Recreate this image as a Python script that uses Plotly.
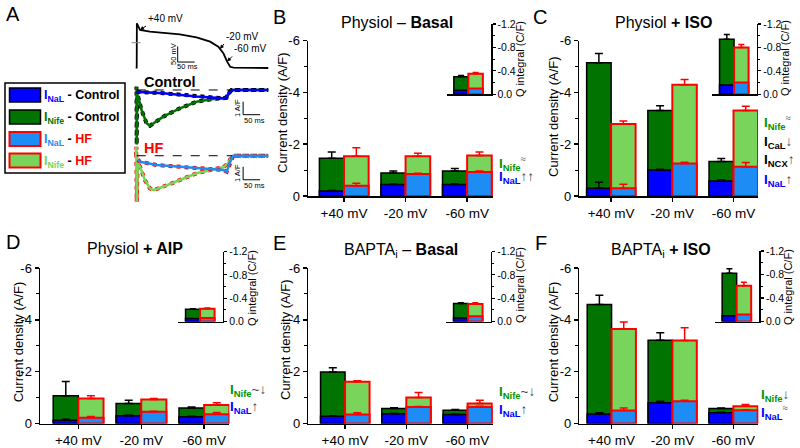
import plotly.graph_objects as go

W, H = 800, 448
FONT = "Liberation Sans, Arial, Helvetica, sans-serif"

BLUE = "#0000FF"
DGREEN = "#007300"
LBLUE = "#1E8CF5"
LGREEN = "#78D45A"
RED = "#FF0000"
TXT_GREEN = "#009400"

categories = ["+40 mV", "-20 mV", "-60 mV"]
q_category = ["Q"]

# ---------------- Panel B : Physiol - Basal (A/F) ----------------
B_ctrl_nife = [-1.46, -0.89, -0.97]
B_ctrl_nife_err = [0.24, 0.08, 0.09]
B_ctrl_nal = [-0.19, -0.44, -0.44]
B_ctrl_nal_err = [0.02, 0.02, 0.03]
B_hf_nife = [-1.54, -1.54, -1.56]
B_hf_nife_err = [0.32, 0.11, 0.14]
B_hf_nal = [-0.40, -0.85, -0.93]
B_hf_nal_err = [0.09, 0.03, 0.04]
# Q integral (C/F): [Control, HF]
B_q_nife = [-0.30, -0.35]
B_q_nife_err = [0.02, 0.02]
B_q_nal = [-0.07, -0.10]

# ---------------- Panel C : Physiol + ISO ----------------
C_ctrl_nife = [-5.15, -3.30, -1.33]
C_ctrl_nife_err = [0.36, 0.19, 0.12]
C_ctrl_nal = [-0.30, -1.00, -0.58]
C_ctrl_nal_err = [0.23, 0.03, 0.04]
C_hf_nife = [-2.78, -4.30, -3.30]
C_hf_nife_err = [0.12, 0.20, 0.17]
C_hf_nal = [-0.30, -1.26, -1.13]
C_hf_nal_err = [0.15, 0.04, 0.16]
C_q_nife = [-0.94, -0.80]
C_q_nife_err = [0.08, 0.05]
C_q_nal = [-0.16, -0.20]

# ---------------- Panel D : Physiol + AIP ----------------
D_ctrl_nife = [-1.07, -0.77, -0.60]
D_ctrl_nife_err = [0.55, 0.13, 0.04]
D_ctrl_nal = [-0.13, -0.30, -0.26]
D_ctrl_nal_err = [0.03, 0.02, 0.02]
D_hf_nife = [-0.96, -0.93, -0.71]
D_hf_nife_err = [0.11, 0.03, 0.09]
D_hf_nal = [-0.22, -0.45, -0.36]
D_hf_nal_err = [0.05, 0.02, 0.06]
D_q_nife = [-0.21, -0.22]
D_q_nife_err = [0.01, 0.01]
D_q_nal = [-0.05, -0.06]

# ---------------- Panel E : BAPTAi - Basal ----------------
E_ctrl_nife = [-1.99, -0.58, -0.51]
E_ctrl_nife_err = [0.16, 0.03, 0.03]
E_ctrl_nal = [-0.28, -0.38, -0.35]
E_ctrl_nal_err = [0.02, 0.02, 0.02]
E_hf_nife = [-1.61, -1.00, -0.77]
E_hf_nife_err = [0.04, 0.20, 0.13]
E_hf_nal = [-0.35, -0.64, -0.64]
E_hf_nal_err = [0.06, 0.02, 0.03]
E_q_nife = [-0.31, -0.30]
E_q_nife_err = [0.01, 0.02]
E_q_nal = [-0.06, -0.09]

# ---------------- Panel F : BAPTAi + ISO ----------------
F_ctrl_nife = [-4.59, -3.21, -0.58]
F_ctrl_nife_err = [0.36, 0.29, 0.02]
F_ctrl_nal = [-0.37, -0.80, -0.41]
F_ctrl_nal_err = [0.04, 0.06, 0.02]
F_hf_nife = [-3.65, -3.20, -0.67]
F_hf_nife_err = [0.27, 0.49, 0.06]
F_hf_nal = [-0.50, -0.86, -0.51]
F_hf_nal_err = [0.10, 0.04, 0.02]
F_q_nife = [-0.82, -0.61]
F_q_nife_err = [0.08, 0.06]
F_q_nal = [-0.10, -0.12]

# ---------------- Panel A traces ----------------
# action potential (ms, mV)
ap_t = [-3, 0, 0.5, 9.7, 39, 78, 127, 176, 216, 240, 255, 266, 275, 285, 387]
ap_v = [-80, -80, 62, 40.6, 35.2, 32, 26.9, 17.3, 3.2, -12.8, -33.9, -60.8, -77, -80, -81]
# Control currents (ms, A/F)
ctrl_nife_t = [-1, -0.5, 0, 1, 5, 15, 29, 39, 78, 127, 176, 225, 255, 265, 274, 284, 387]
ctrl_nife_i = [0, 0.25, -4.2, -0.4, -0.6, -1.6, -2.56, -2.75, -2.05, -1.41, -0.9, -0.69, -0.64, -0.6, -0.13, 0, 0]
ctrl_nal_t = [0, 5, 78, 176, 255, 262, 270, 279, 387]
ctrl_nal_i = [-0.1, -0.15, -0.25, -0.5, -0.64, -0.6, -0.3, 0, 0]
# HF currents (ms, A/F)
hf_nife_t = [-2, -1, 0, 3, 10, 24, 39, 49, 78, 127, 176, 225, 255, 269, 279, 290, 387]
hf_nife_i = [0, 0.69, -3.54, -0.6, -0.85, -1.87, -2.51, -2.64, -2.38, -1.87, -1.35, -1.05, -0.89, -0.58, -0.08, 0, 0]
hf_nal_t = [3, 10, 59, 127, 206, 255, 265, 275, 284, 387]
hf_nal_i = [-0.3, -0.46, -0.72, -0.85, -0.97, -1.1, -1.23, -0.46, 0, 0]

SCALE_MS = 50
SCALE_MV = 50
SCALE_AF = 1

layout = dict(width=W, height=H,
              margin=dict(l=0, r=0, t=0, b=0, pad=0, autoexpand=False),
              paper_bgcolor="white", plot_bgcolor="rgba(0,0,0,0)",
              barmode="overlay", showlegend=False,
              font=dict(family=FONT, color="black"))
traces, annotations, shapes = [], [], []
_ax = [0]


def new_axes(xpx, ypx, xopts, yopts):
    _ax[0] += 1
    s = "" if _ax[0] == 1 else str(_ax[0])
    layout["xaxis" + s] = dict(domain=[xpx[0] / W, xpx[1] / W], anchor="y" + s, automargin=False, **xopts)
    layout["yaxis" + s] = dict(domain=[1 - ypx[1] / H, 1 - ypx[0] / H], anchor="x" + s, automargin=False, **yopts)
    return "x" + s, "y" + s


def ann(text, x, y, size, color="black", xanchor="center", yanchor="middle", angle=0):
    annotations.append(dict(text=text, x=x / W, y=1 - y / H, xref="paper", yref="paper",
                            showarrow=False, font=dict(size=size, color=color, family=FONT),
                            xanchor=xanchor, yanchor=yanchor, textangle=angle))


def rect(x0, y0, x1, y1, fill, edge, lw):
    shapes.append(dict(type="rect", xref="paper", yref="paper", x0=x0 / W, x1=x1 / W,
                       y0=1 - y1 / H, y1=1 - y0 / H, fillcolor=fill,
                       line=dict(color=edge, width=lw)))


def add_group(xa, ya, x, nife, nife_err, nal, nal_err, group, width, offset, capw):
    if group == "ctrl":
        f1, f2, edge, lw = DGREEN, BLUE, "black", 1.5
    else:
        f1, f2, edge, lw = LGREEN, LBLUE, RED, 2
    traces.append(go.Bar(x=x, y=nife, width=width, offset=offset, xaxis=xa, yaxis=ya,
                         marker=dict(color=f1, line=dict(color=edge, width=lw)),
                         error_y=dict(type="data", symmetric=False, array=[0] * len(nife),
                                      arrayminus=nife_err, color=edge, thickness=1.5, width=capw)))
    e2 = None
    if nal_err is not None:
        e2 = dict(type="data", symmetric=False, array=[0] * len(nal), arrayminus=nal_err,
                  color=edge, thickness=1.5, width=capw)
    traces.append(go.Bar(x=x, y=nal, width=width, offset=offset, xaxis=xa, yaxis=ya,
                         marker=dict(color=f2, line=dict(color=edge, width=lw)),
                         error_y=e2))


AXCOMMON = dict(showline=True, linecolor="black", linewidth=1.5, showgrid=False,
                zeroline=False, fixedrange=True, tickcolor="black")


def bar_panel(d, main_x, main_y, xr, inset_right, inset_y, title, title_pos,
              letter, letter_pos, ytitle_pos, qtitle_pos, side_labels):
    xa, ya = new_axes(main_x, main_y,
                      dict(type="category", range=xr, ticks="outside", ticklen=4, tickwidth=1.5,
                           tickfont=dict(size=13.5), **AXCOMMON),
                      dict(range=[0, -6], tickmode="array", tickvals=[0, -2, -4, -6],
                           ticktext=["0", "-2", "-4", "-6"], ticks="outside", ticklen=4,
                           tickwidth=1.5, tickfont=dict(size=13),
                           minor=dict(tickvals=[-1, -3, -5], ticklen=3, ticks="outside",
                                      tickcolor="black", tickwidth=1), **AXCOMMON))
    add_group(xa, ya, categories, d["ctrl_nife"], d["ctrl_nife_err"], d["ctrl_nal"],
              d["ctrl_nal_err"], "ctrl", 0.4, -0.4, 4)
    add_group(xa, ya, categories, d["hf_nife"], d["hf_nife_err"], d["hf_nal"],
              d["hf_nal_err"], "hf", 0.4, 0.0, 4)
    # inset
    ixa, iya = new_axes((inset_right - 44.4, inset_right), inset_y,
                        dict(type="category", range=[-0.75, 0.78], showticklabels=False,
                             ticks="", **AXCOMMON),
                        dict(range=[0, -1.2], side="right", tickmode="array",
                             tickvals=[0, -0.4, -0.8, -1.2],
                             ticktext=["0.0", "-0.4", "-0.8", "-1.2"], ticks="outside",
                             ticklen=3, tickwidth=1.2, tickfont=dict(size=10.5),
                             minor=dict(tickvals=[-0.2, -0.6, -1.0], ticklen=2, ticks="outside",
                                        tickcolor="black", tickwidth=1), **AXCOMMON))
    add_group(ixa, iya, q_category, d["q_nife"][:1], d["q_nife_err"][:1], d["q_nal"][:1], None,
              "ctrl", 0.5, -0.5, 3)
    add_group(ixa, iya, q_category, d["q_nife"][1:], d["q_nife_err"][1:], d["q_nal"][1:], None,
              "hf", 0.5, 0.0, 3)
    ann(title, title_pos[0], title_pos[1], 16)
    ann(letter, letter_pos[0], letter_pos[1], 20, xanchor="left")
    ann("Current density (A/F)", ytitle_pos[0], ytitle_pos[1], 13, angle=-90)
    ann("Q integral (C/F)", qtitle_pos[0], qtitle_pos[1], 11, angle=-90)
    for txt, col, sym, (lx, ly) in side_labels:
        ann("<b><span style='color:%s'>%s</span></b><span style='color:#444'>%s</span>"
            % (col, txt, sym), lx, ly, 13.5, xanchor="left")


def pdata(p):
    g = globals()
    keys = ["ctrl_nife", "ctrl_nife_err", "ctrl_nal", "ctrl_nal_err", "hf_nife", "hf_nife_err",
            "hf_nal", "hf_nal_err", "q_nife", "q_nife_err", "q_nal"]
    return {k: g[p + "_" + k] for k in keys}


NIFE = "I<sub>Nife</sub>"
NAL = "I<sub>NaL</sub>"
CAL = "I<sub>CaL</sub>"
NCX = "I<sub>NCX</sub>"

bar_panel(pdata("B"), (308, 493), (40.7, 196), [-0.585, 2.42], 491, (24, 94.3),
          "Physiol – <b>Basal</b>", (396.7, 22), "B", (271, 17), (283, 113), (520, 59),
          [(NIFE, TXT_GREEN, "<sup>≈</sup>", (497, 163)), (NAL, BLUE, "↑↑", (497, 177))])
bar_panel(pdata("C"), (579.3, 758), (40.7, 196), [-0.52, 2.40], 756.7, (24, 94.3),
          "Physiol <b>+ ISO</b>", (663, 22.5), "C", (531, 17), (553, 117), (785, 58),
          [(NIFE, TXT_GREEN, "<sup>≈</sup>", (762, 122)), (CAL, "black", "↓", (762, 142)),
           (NCX, "black", "↑", (762, 160)), (NAL, BLUE, "↑", (762, 180))])
bar_panel(pdata("D"), (40, 229.3), (268, 423.5), [-0.61, 2.40], 222.7, (251.5, 321.5),
          "Physiol <b>+ AIP</b>", (135, 248), "D", (4, 242), (18.3, 342), (252, 288),
          [(NIFE, TXT_GREEN, "~↓", (228, 390)), (NAL, BLUE, "↑", (228, 407))])
bar_panel(pdata("E"), (308.3, 492.7), (268, 423.5), [-0.60, 2.41], 490.7, (251.5, 321.5),
          "BAPTA<sub>i</sub> – <b>Basal</b>", (400.8, 250.5), "E", (271, 243), (285, 340), (520, 285),
          [(NIFE, TXT_GREEN, "~↓", (497, 392)), (NAL, BLUE, "↑", (497, 410))])
bar_panel(pdata("F"), (579.3, 758.3), (268, 423.5), [-0.53, 2.41], 759.3, (251, 321.5),
          "BAPTA<sub>i</sub> <b>+ ISO</b>", (660.8, 250.5), "F", (533, 243), (553.3, 342), (788, 287),
          [(NIFE, TXT_GREEN, "↓", (759, 395)), (NAL, BLUE, "<sup>≈</sup>", (759, 412))])

# ---------------- Panel A ----------------
HID = dict(visible=False, fixedrange=True)
TR = [-19.7, 392.1]
axa, aya = new_axes((130, 270), (10, 75), dict(range=TR, **HID), dict(range=[-103.4, 104.6], **HID))
traces.append(go.Scatter(x=ap_t, y=ap_v, mode="lines", line=dict(color="black", width=1.8),
                         xaxis=axa, yaxis=aya))
shapes.append(dict(type="line", xref=axa, yref=aya, x0=-15, x1=34, y0=0, y1=0,
                   line=dict(color="#888", width=1, dash="dash")))
sbt, sbv = 120.6, -62
shapes.append(dict(type="line", xref=axa, yref=aya, x0=sbt, x1=sbt, y0=sbv, y1=sbv + SCALE_MV,
                   line=dict(color="black", width=1)))
shapes.append(dict(type="line", xref=axa, yref=aya, x0=sbt, x1=sbt + SCALE_MS, y0=sbv, y1=sbv,
                   line=dict(color="black", width=1)))
ann("50 mV", 173, 54, 7.5, angle=-90)
ann("50 ms", 187.5, 66.5, 7.5)
for txt, t, v, axx, ayy in [("+40 mV", 9.7, 40.6, 6, -4), ("-20 mV", 245, -20, 4, -5),
                            ("-60 mV", 266, -60, 5, -5)]:
    annotations.append(dict(text=txt, x=t, y=v, xref=axa, yref=aya, showarrow=True,
                            ax=axx, ay=ayy, arrowhead=2, arrowsize=0.8, arrowwidth=1,
                            arrowcolor="black", font=dict(size=10, family=FONT),
                            xanchor="left", yanchor="bottom"))


def current_axes(ypx, top, bottom, nife_t, nife_i, nal_t, nal_i, edge, cn, cb, sb_i):
    xa, ya = new_axes((130, 270), ypx, dict(range=TR, **HID), dict(range=[bottom, top], **HID))
    shapes.append(dict(type="line", xref=xa, yref=ya, x0=0, x1=280, y0=0, y1=0,
                       line=dict(color="black", width=1, dash="dash")))
    for tt, ii, col in [(nife_t, nife_i, cn), (nal_t, nal_i, cb)]:
        traces.append(go.Scatter(x=tt, y=ii, mode="lines", xaxis=xa, yaxis=ya,
                                 line=dict(color=edge, width=4, dash="dot")))
        traces.append(go.Scatter(x=tt, y=ii, mode="lines", xaxis=xa, yaxis=ya,
                                 line=dict(color=col, width=2.6)))
    shapes.append(dict(type="line", xref=xa, yref=ya, x0=313, x1=313, y0=sb_i, y1=sb_i + SCALE_AF,
                       line=dict(color="black", width=1)))
    shapes.append(dict(type="line", xref=xa, yref=ya, x0=313, x1=313 + SCALE_MS, y0=sb_i, y1=sb_i,
                       line=dict(color="black", width=1)))


current_axes((78, 148), 0.92, -4.46, ctrl_nife_t, ctrl_nife_i, ctrl_nal_t, ctrl_nal_i,
             "black", DGREEN, BLUE, -1.9)
current_axes((140, 212), 1.21, -4.33, hf_nife_t, hf_nife_i, hf_nal_t, hf_nal_i,
             RED, LGREEN, LBLUE, -1.85)
ann("1 A/F", 237, 108, 7.5, angle=-90)
ann("50 ms", 254, 120.5, 7.5)
ann("1 A/F", 237, 173, 7.5, angle=-90)
ann("50 ms", 254, 185.5, 7.5)
ann("<b>Control</b>", 142, 82, 14.5, xanchor="left")
ann("<b>HF</b>", 142, 148, 14.5, color=RED, xanchor="left")
ann("A", 4, 14, 20, xanchor="left")

# legend box
rect(5, 83, 125, 173, "rgba(0,0,0,0)", "black", 1.5)
leg = [(BLUE, "black", 1.5, BLUE, "NaL", "black", "Control", 95),
       (DGREEN, "black", 1.5, DGREEN, "Nife", "black", "Control", 117),
       (LBLUE, RED, 2, LBLUE, "NaL", RED, "HF", 139),
       (LGREEN, RED, 2, LGREEN, "Nife", RED, "HF", 160.5)]
for fill, edge, lw, tcol, sub, c2, word, yc in leg:
    rect(9.5, yc - 7, 40.5, yc + 7, fill, edge, lw)
    ann("<b><span style='color:%s'>I<sub>%s</sub></span><span style='color:black'> - </span>"
        "<span style='color:%s'>%s</span></b>" % (tcol, sub, c2, word),
        42, yc + 1, 12.5, xanchor="left")

layout["annotations"] = annotations
layout["shapes"] = shapes
fig = go.Figure(data=traces, layout=layout)
fig.write_html("out.html", config={"displayModeBar": False, "staticPlot": True},
               post_script="document.body.style.margin='0';document.body.style.overflow='hidden';")
